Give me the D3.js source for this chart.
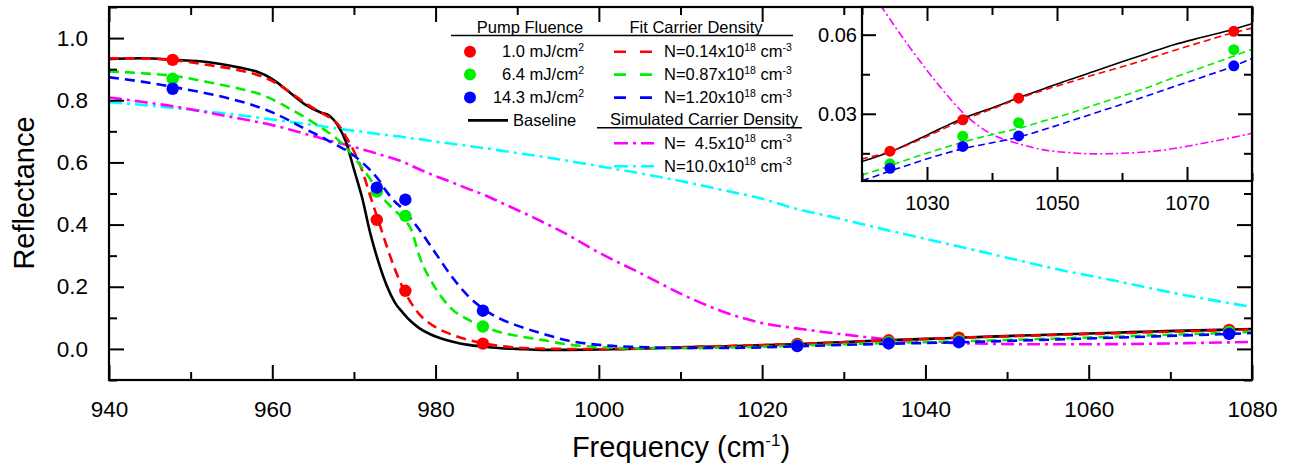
<!DOCTYPE html>
<html><head><meta charset="utf-8">
<script src="https://cdn.jsdelivr.net/npm/d3@7"></script>
<style>
body{margin:0;background:#fff}
svg{display:block}
text{font-family:"Liberation Sans",Arial,Helvetica,sans-serif;fill:#000}
</style>
</head><body>
<svg id="c" width="1290" height="467"></svg>
<script>
// ---------------- DATA ----------------
const freq = [940,944,948,952,956,958,960,962,964,966,967,968,969,970,971,972,973,974,975,976,977,978,980,982,984,986,988,990,993,996,1000,1005,1010,1015,1020,1024,1028,1032,1036,1040,1044,1048,1052,1056,1060,1064,1068,1072,1076,1080];
const baseline = [0.933,0.935,0.930,0.923,0.905,0.893,0.868,0.828,0.787,0.760,0.750,0.720,0.668,0.578,0.487,0.372,0.280,0.205,0.150,0.116,0.088,0.067,0.040,0.024,0.013,0.007,0.002,0.000,-0.003,-0.003,-0.002,0.001,0.005,0.008,0.0119,0.0152,0.0196,0.0243,0.0288,0.0322,0.0360,0.0395,0.0430,0.0463,0.0497,0.0530,0.0562,0.0588,0.0613,0.0642];
const fit014 = [0.935,0.934,0.929,0.914,0.896,0.883,0.862,0.829,0.792,0.760,0.745,0.724,0.684,0.636,0.575,0.492,0.412,0.332,0.258,0.196,0.148,0.112,0.070,0.046,0.029,0.017,0.009,0.004,0.001,0.000,-0.001,0.001,0.005,0.009,0.0128,0.0154,0.0192,0.0237,0.0281,0.0318,0.0357,0.0390,0.0420,0.0450,0.0478,0.0508,0.0540,0.0570,0.0600,0.0625];
const fit087 = [0.893,0.887,0.878,0.859,0.837,0.824,0.803,0.775,0.745,0.712,0.694,0.674,0.648,0.617,0.583,0.546,0.508,0.472,0.446,0.420,0.385,0.300,0.195,0.128,0.094,0.071,0.053,0.042,0.029,0.015,0.006,0.002,0.002,0.004,0.0068,0.0100,0.0135,0.0166,0.0196,0.0221,0.0244,0.0273,0.0302,0.0335,0.0367,0.0400,0.0438,0.0473,0.0508,0.0545];
const fit120 = [0.874,0.860,0.842,0.822,0.797,0.781,0.761,0.736,0.708,0.682,0.668,0.654,0.640,0.622,0.600,0.575,0.545,0.506,0.474,0.450,0.418,0.384,0.308,0.232,0.170,0.126,0.096,0.075,0.050,0.028,0.013,0.006,0.003,0.003,0.0047,0.0080,0.0113,0.0144,0.0170,0.0190,0.0211,0.0240,0.0272,0.0304,0.0336,0.0369,0.0403,0.0436,0.0470,0.0510];
const sim45 = [0.809,0.795,0.780,0.761,0.741,0.731,0.720,0.707,0.692,0.678,0.671,0.664,0.657,0.650,0.642,0.635,0.627,0.619,0.611,0.602,0.590,0.578,0.556,0.536,0.515,0.495,0.471,0.447,0.410,0.370,0.310,0.245,0.178,0.122,0.083,0.067,0.053,0.0403,0.0293,0.0222,0.0187,0.0163,0.0152,0.0148,0.0150,0.0156,0.0168,0.0186,0.0205,0.0226];
const sim100 = [0.794,0.785,0.775,0.764,0.752,0.745,0.738,0.731,0.724,0.717,0.713,0.709,0.705,0.702,0.699,0.695,0.691,0.688,0.685,0.682,0.678,0.675,0.667,0.660,0.653,0.646,0.638,0.630,0.619,0.606,0.588,0.565,0.540,0.512,0.483,0.452,0.428,0.403,0.378,0.354,0.330,0.306,0.281,0.257,0.236,0.215,0.193,0.172,0.153,0.135];

const pointFreq = [947.8,972.8,976.3,985.8,1024.3,1035.5,1044.1,1077.2];
const pump10 = [0.930,0.415,0.187,0.017,0.0158,0.0277,0.0359,0.0613];
const pump64 = [0.869,0.506,0.428,0.072,0.0110,0.0215,0.0266,0.0543];
const pump143 = [0.837,0.519,0.480,0.123,0.0093,0.0176,0.0216,0.0482];

const xMajor = [940,960,980,1000,1020,1040,1060,1080];
const xMinor = [950,970,990,1010,1030,1050,1070];
const yMajor = [0.0,0.2,0.4,0.6,0.8,1.0];
const yMinor = [-0.1,0.1,0.3,0.5,0.7,0.9,1.1];
const insetXMajor = [1030,1050,1070];
const insetXMinor = [1020,1040,1060,1080];
const insetYMajor = [0.03,0.06];
const insetYMinor = [0.015,0.045];

const pumpLabels = ["1.0","6.4","14.3"];
const fitLabels = ["0.14","0.87","1.20"];
const simLabels = ["  4.5","10.0"];

// ---------------- SETUP ----------------
const RED="#FF0000", GREEN="#00EE00", BLUE="#0000FF", MAG="#FF00FF", CYAN="#00FFFF";
const svg = d3.select("#c");
const defs = svg.append("defs");

const mainBox = {l:109, r:1252, t:7, b:380};
const insetBox = {l:862, r:1252, t:7, b:181};

const x = d3.scaleLinear().domain([940,1080]).range([mainBox.l, mainBox.r]);
const y = d3.scaleLinear().domain([-0.1,1.1]).range([mainBox.b, mainBox.t]);
const xi = d3.scaleLinear().domain([1020,1080]).range([insetBox.l, insetBox.r]);
const yi = d3.scaleLinear().domain([0.0045,0.0705]).range([insetBox.b, insetBox.t]);

function clip(id, b){
  defs.append("clipPath").attr("id",id).append("rect")
    .attr("x",b.l).attr("y",b.t).attr("width",b.r-b.l).attr("height",b.b-b.t);
}
clip("mclip", mainBox); clip("iclip", insetBox);

const lineSeries = [
  {v:sim100, c:CYAN, d:"main"},
  {v:sim45, c:MAG, d:"dashdot"},
  {v:baseline, c:"#000", d:"solid"},
  {v:fit014, c:RED, d:"dash"},
  {v:fit087, c:GREEN, d:"dash"},
  {v:fit120, c:BLUE, d:"dash"}
];
lineSeries[0].d = "dashdot";
const pointSeries = [{v:pump10,c:RED},{v:pump64,c:GREEN},{v:pump143,c:BLUE}];

function drawPlot(g, xs, ys, clipId, lw, dashPat, dotPat, r, minX){
  const pg = g.append("g").attr("clip-path",`url(#${clipId})`);
  lineSeries.forEach(s=>{
    const pts = freq.map((f,i)=>[f,s.v[i]]).filter((p,i)=> freq[i] >= minX - 5);
    const line = d3.line().x(p=>xs(p[0])).y(p=>ys(p[1])).curve(d3.curveMonotoneX);
    pg.append("path").attr("d", line(pts)).attr("fill","none")
      .attr("stroke", s.c).attr("stroke-width", lw)
      .attr("stroke-dasharray", s.d==="dash"?dashPat:(s.d==="dashdot"?dotPat:null));
  });
  pointSeries.forEach(s=>{
    pg.selectAll(null).data(pointFreq.map((f,i)=>[f,s.v[i]])).join("circle")
      .attr("cx",p=>xs(p[0])).attr("cy",p=>ys(p[1])).attr("r",r).attr("fill",s.c);
  });
}

function drawAxes(g, xs, ys, xMaj, xMin, yMaj, yMin, xFmt, yFmt, fs, xPad, yPad, major, minor, labelsX, labelsY){
  const [x0,x1] = xs.range(), [y0,y1] = ys.range();
  const add = (tr, ax) => g.append("g").attr("transform",tr).call(ax);
  const groups = [];
  groups.push(add(`translate(0,${y0})`, d3.axisBottom(xs).tickValues(xMaj).tickSize(-major).tickSizeOuter(0).tickPadding(xPad).tickFormat(labelsX?xFmt:"")));
  groups.push(add(`translate(0,${y0})`, d3.axisBottom(xs).tickValues(xMin).tickSize(-minor).tickSizeOuter(0).tickFormat("")));
  groups.push(add(`translate(0,${y1})`, d3.axisTop(xs).tickValues(xMaj).tickSize(-major).tickSizeOuter(0).tickFormat("")));
  groups.push(add(`translate(0,${y1})`, d3.axisTop(xs).tickValues(xMin).tickSize(-minor).tickSizeOuter(0).tickFormat("")));
  groups.push(add(`translate(${x0},0)`, d3.axisLeft(ys).tickValues(yMaj).tickSize(-major).tickSizeOuter(0).tickPadding(yPad).tickFormat(labelsY?yFmt:"")));
  groups.push(add(`translate(${x0},0)`, d3.axisLeft(ys).tickValues(yMin).tickSize(-minor).tickSizeOuter(0).tickFormat("")));
  groups.push(add(`translate(${x1},0)`, d3.axisRight(ys).tickValues(yMaj).tickSize(-major).tickSizeOuter(0).tickFormat("")));
  groups.push(add(`translate(${x1},0)`, d3.axisRight(ys).tickValues(yMin).tickSize(-minor).tickSizeOuter(0).tickFormat("")));
  groups.forEach(a=>{
    a.select(".domain").remove();
    a.selectAll(".tick line").attr("stroke","#000").attr("stroke-width",2);
    a.selectAll(".tick text").attr("font-size",fs).attr("font-family",'"Liberation Sans",Arial,sans-serif').attr("fill","#000");
  });
  g.append("rect").attr("x",x0).attr("y",y1).attr("width",x1-x0).attr("height",y0-y1)
    .attr("fill","none").attr("stroke","#000").attr("stroke-width",2.2);
}

// ---------------- MAIN PLOT ----------------
const mainG = svg.append("g");
drawPlot(mainG, x, y, "mclip", 2.6, "10,6", "13,5,3,5", 6.2, 940);
drawAxes(mainG, x, y, xMajor, xMinor, yMajor, yMinor, d3.format("d"), d3.format(".1f"), 22.5, 21, 21, 15, 8, true, true);

// axis titles
svg.append("text").attr("transform","translate(34,193) rotate(-90)")
  .attr("text-anchor","middle").attr("font-size",29).text("Reflectance");
const xt = svg.append("text").attr("x",681).attr("y",457).attr("text-anchor","middle").attr("font-size",29);
xt.append("tspan").text("Frequency (cm");
xt.append("tspan").attr("font-size",17).attr("dy",-11).text("-1");
xt.append("tspan").attr("dy",11).text(")");

// ---------------- LEGEND ----------------
const lg = svg.append("g").attr("font-size",16.5);
const rowY = [51.7, 74.6, 97.6, 120.4, 143.3, 166.2];
lg.append("text").attr("x",530).attr("y",33).attr("text-anchor","middle").attr("font-size",16.5).text("Pump Fluence");
lg.append("text").attr("x",696).attr("y",33).attr("text-anchor","middle").attr("font-size",16.5).text("Fit Carrier Density");
lg.append("line").attr("x1",451).attr("x2",793).attr("y1",35.5).attr("y2",35.5).attr("stroke","#000").attr("stroke-width",1.5);
lg.append("text").attr("x",704).attr("y",125).attr("text-anchor","middle").attr("font-size",16.5).text("Simulated Carrier Density");
lg.append("line").attr("x1",597).attr("x2",802).attr("y1",127.8).attr("y2",127.8).attr("stroke","#000").attr("stroke-width",1.5);

function supText(sel, parts){
  parts.forEach(p=>{
    const t = sel.append("tspan").text(p[0]);
    if(p[1]==="sup") t.attr("font-size",10.5).attr("dy",-6.5);
    if(p[1]==="down") t.attr("dy",6.5);
  });
}
const pColors=[RED,GREEN,BLUE];
pumpLabels.forEach((lab,i)=>{
  const yy=rowY[i];
  lg.append("circle").attr("cx",470).attr("cy",yy).attr("r",6).attr("fill",pColors[i]);
  const t = lg.append("text").attr("x",584).attr("y",yy+5.5).attr("text-anchor","end");
  supText(t, [[lab+" mJ/cm",""],["2","sup"]]);
});
fitLabels.forEach((lab,i)=>{
  const yy=rowY[i];
  lg.append("line").attr("x1",614).attr("x2",653).attr("y1",yy).attr("y2",yy)
    .attr("stroke",pColors[i]).attr("stroke-width",2.6).attr("stroke-dasharray","12,14");
  const t = lg.append("text").attr("x",664).attr("y",yy+5.5).style("white-space","pre");
  supText(t, [["N="+lab+"x10",""],["18","sup"],[" cm","down"],["-3","sup"]]);
});
lg.append("line").attr("x1",468).attr("x2",508).attr("y1",rowY[3]).attr("y2",rowY[3]).attr("stroke","#000").attr("stroke-width",2.6);
lg.append("text").attr("x",513).attr("y",rowY[3]+5.5).text("Baseline");
const sColors=[MAG,CYAN];
simLabels.forEach((lab,i)=>{
  const yy=rowY[4+i];
  lg.append("line").attr("x1",614).attr("x2",654).attr("y1",yy).attr("y2",yy)
    .attr("stroke",sColors[i]).attr("stroke-width",2.6).attr("stroke-dasharray","14,5,3,5");
  const t = lg.append("text").attr("x",664).attr("y",yy+5.5).style("white-space","pre");
  supText(t, [["N="+lab+"x10",""],["18","sup"],[" cm","down"],["-3","sup"]]);
});

// ---------------- INSET ----------------
const inG = svg.append("g");
inG.append("rect").attr("x",insetBox.l).attr("y",insetBox.t).attr("width",insetBox.r-insetBox.l).attr("height",insetBox.b-insetBox.t).attr("fill","#fff");
drawPlot(inG, xi, yi, "iclip", 1.6, "7,4", "8,3,2,3", 5.5, 1020);
drawAxes(inG, xi, yi, insetXMajor, insetXMinor, insetYMajor, insetYMinor, d3.format("d"), d3.format(".2f"), 20, 15, 5, 14, 8, true, true);
</script>
</body></html>
